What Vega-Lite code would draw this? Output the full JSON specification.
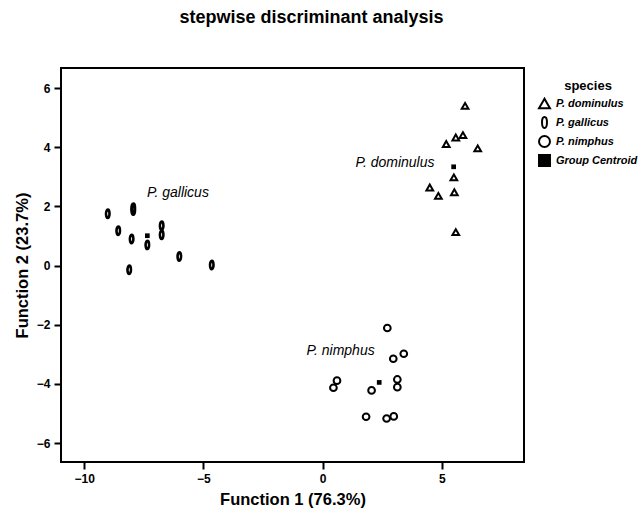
{
  "$schema": "https://vega.github.io/schema/vega-lite/v6.json",
  "width": 463,
  "height": 394,
  "autosize": {"type": "none"},
  "padding": {"left": 61, "top": 68, "right": 119, "bottom": 53},
  "background": "white",
  "title": {"text": "stepwise discriminant analysis", "font": "Liberation Sans", "fontSize": 18, "fontWeight": "bold", "color": "black", "anchor": "middle", "offset": 41, "dx": 19},
  "datasets": {
    "points": [
      {"f1": 5.97, "f2": 5.40, "species": "P. dominulus"},
      {"f1": 5.58, "f2": 4.33, "species": "P. dominulus"},
      {"f1": 5.88, "f2": 4.41, "species": "P. dominulus"},
      {"f1": 5.18, "f2": 4.11, "species": "P. dominulus"},
      {"f1": 6.50, "f2": 3.96, "species": "P. dominulus"},
      {"f1": 5.50, "f2": 2.98, "species": "P. dominulus"},
      {"f1": 4.49, "f2": 2.64, "species": "P. dominulus"},
      {"f1": 4.85, "f2": 2.36, "species": "P. dominulus"},
      {"f1": 5.52, "f2": 2.48, "species": "P. dominulus"},
      {"f1": 5.58, "f2": 1.13, "species": "P. dominulus"},
      {"f1": -9.01, "f2": 1.75, "species": "P. gallicus"},
      {"f1": -7.94, "f2": 1.96, "species": "P. gallicus"},
      {"f1": -7.94, "f2": 1.86, "species": "P. gallicus"},
      {"f1": -8.57, "f2": 1.18, "species": "P. gallicus"},
      {"f1": -8.01, "f2": 0.90, "species": "P. gallicus"},
      {"f1": -7.35, "f2": 0.70, "species": "P. gallicus"},
      {"f1": -6.75, "f2": 1.35, "species": "P. gallicus"},
      {"f1": -6.75, "f2": 1.04, "species": "P. gallicus"},
      {"f1": -6.01, "f2": 0.31, "species": "P. gallicus"},
      {"f1": -4.65, "f2": 0.02, "species": "P. gallicus"},
      {"f1": -8.11, "f2": -0.14, "species": "P. gallicus"},
      {"f1": 2.71, "f2": -2.11, "species": "P. nimphus"},
      {"f1": 2.96, "f2": -3.15, "species": "P. nimphus"},
      {"f1": 3.40, "f2": -2.98, "species": "P. nimphus"},
      {"f1": 0.60, "f2": -3.89, "species": "P. nimphus"},
      {"f1": 0.45, "f2": -4.13, "species": "P. nimphus"},
      {"f1": 2.05, "f2": -4.22, "species": "P. nimphus"},
      {"f1": 3.13, "f2": -3.85, "species": "P. nimphus"},
      {"f1": 3.13, "f2": -4.11, "species": "P. nimphus"},
      {"f1": 1.82, "f2": -5.11, "species": "P. nimphus"},
      {"f1": 2.68, "f2": -5.17, "species": "P. nimphus"},
      {"f1": 2.98, "f2": -5.10, "species": "P. nimphus"},
      {"f1": 5.49, "f2": 3.34, "species": "Group Centroid"},
      {"f1": -7.35, "f2": 1.01, "species": "Group Centroid"},
      {"f1": 2.37, "f2": -3.95, "species": "Group Centroid"}
    ],
    "labels": [
      {"f1": -6.07, "f2": 2.46, "label": "P. gallicus"},
      {"f1": 3.03, "f2": 3.48, "label": "P. dominulus"},
      {"f1": 0.75, "f2": -2.88, "label": "P. nimphus"}
    ]
  },
  "encoding": {
    "x": {"field": "f1", "type": "quantitative", "title": "Function 1 (76.3%)",
      "scale": {"domain": [-10.97, 8.44], "nice": false, "zero": false},
      "axis": {"values": [-10, -5, 0, 5], "labelPadding": 4, "titlePadding": 7}},
    "y": {"field": "f2", "type": "quantitative", "title": "Function 2 (23.7%)",
      "scale": {"domain": [-6.64, 6.68], "nice": false, "zero": false},
      "axis": {"values": [-6, -4, -2, 0, 2, 4, 6], "labelPadding": 4, "titlePadding": 6}}
  },
  "layer": [
    {
      "data": {"name": "points"},
      "transform": [{"filter": "datum.species !== 'Group Centroid'"}],
      "mark": {"type": "point", "filled": true, "strokeWidth": 2, "opacity": 1, "size": 45},
      "encoding": {
        "shape": {"field": "species", "type": "nominal",
          "scale": {"domain": ["P. dominulus", "P. gallicus", "P. nimphus", "Group Centroid"],
            "range": ["triangle-up", "M0,-1A0.45,1,0,1,1,0,1A0.45,1,0,1,1,0,-1Z", "circle", "square"]},
          "legend": {"title": "species"}},
        "fill": {"field": "species", "type": "nominal",
          "scale": {"domain": ["P. dominulus", "P. gallicus", "P. nimphus", "Group Centroid"],
            "range": ["transparent", "transparent", "transparent", "black"]},
          "legend": {"title": "species"}},
        "stroke": {"field": "species", "type": "nominal",
          "scale": {"domain": ["P. dominulus", "P. gallicus", "P. nimphus", "Group Centroid"],
            "range": ["black", "black", "black", "black"]},
          "legend": {"title": "species"}}
      }
    },
    {
      "data": {"name": "points"},
      "transform": [{"filter": "datum.species === 'P. gallicus'"}],
      "mark": {"type": "point", "filled": true, "strokeWidth": 2, "opacity": 1, "size": 80},
      "encoding": {
        "shape": {"field": "species", "type": "nominal"},
        "fill": {"field": "species", "type": "nominal"},
        "stroke": {"field": "species", "type": "nominal"}
      }
    },
    {
      "data": {"name": "points"},
      "transform": [{"filter": "datum.species === 'Group Centroid'"}],
      "mark": {"type": "point", "filled": true, "strokeWidth": 0, "opacity": 1, "size": 22},
      "encoding": {
        "shape": {"field": "species", "type": "nominal"},
        "fill": {"field": "species", "type": "nominal"},
        "stroke": {"field": "species", "type": "nominal"}
      }
    },
    {
      "data": {"name": "labels"},
      "mark": {"type": "text", "font": "Liberation Sans", "fontSize": 14, "fontStyle": "italic", "color": "black", "align": "center", "baseline": "middle"},
      "encoding": {"text": {"field": "label", "type": "nominal"}}
    }
  ],
  "config": {
    "font": "Liberation Sans",
    "view": {"stroke": "black", "strokeWidth": 2},
    "axis": {"domain": false, "grid": false, "tickColor": "black", "tickWidth": 2, "tickSize": 7,
      "labelFont": "Liberation Sans", "labelFontWeight": "bold", "labelFontSize": 12, "labelColor": "black",
      "titleFont": "Liberation Sans", "titleFontWeight": "bold", "titleFontSize": 16.5, "titleColor": "black"},
    "legend": {"orient": "right", "offset": 2, "padding": 12, "titleAnchor": "middle",
      "titleFont": "Liberation Sans", "titleFontSize": 13, "titleFontWeight": "bold", "titleColor": "black", "titlePadding": 4,
      "labelFont": "Liberation Sans", "labelFontSize": 11, "labelFontWeight": "bold", "labelFontStyle": "italic", "labelColor": "black",
      "symbolSize": 120, "symbolStrokeWidth": 2, "labelOffset": 5, "rowPadding": 0}
  }
}
